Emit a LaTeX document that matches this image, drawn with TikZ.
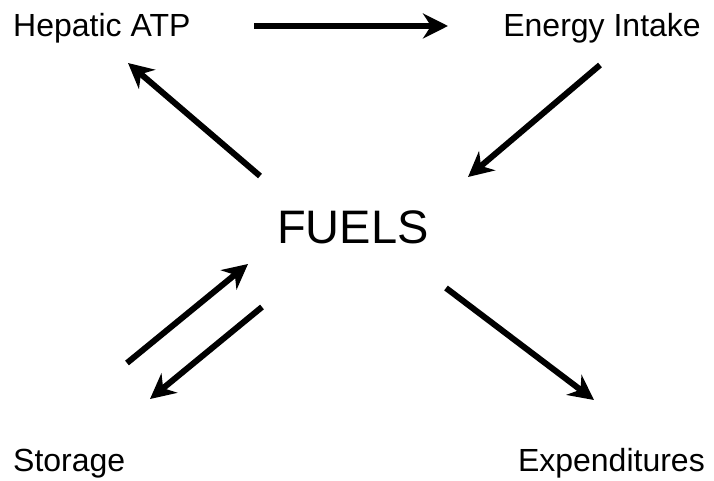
\documentclass[tikz,border=0pt]{standalone}
\usepackage{fontspec}
\setmainfont{Liberation Sans}
\usetikzlibrary{arrows.meta}
\begin{document}
\begin{tikzpicture}[x=1pt,y=-1pt,
  lbl/.style={inner sep=0pt,font=\fontsize{32}{38}\selectfont},
  conn/.style={line width=6pt,-{Stealth[length=25pt,width=25pt,inset=8pt]}}]
\useasboundingbox (0,0) rectangle (714,481);
\node[lbl,anchor=base west] (atp) at (13,37) {Hepatic ATP};
\node[lbl,anchor=base east] (intake) at (701,37) {Energy Intake};
\node[lbl,anchor=base,font=\fontsize{47}{54}\selectfont] (fuels) at (353,243) {FUELS};
\node[lbl,anchor=base west] (storage) at (13,471) {Storage};
\node[lbl,anchor=base east] (exp) at (705,471) {Expenditures};
\coordinate (a1) at (254,26); \coordinate (a2) at (448,26);
\coordinate (b1) at (600,65); \coordinate (b2) at (468,177);
\coordinate (c1) at (260,176); \coordinate (c2) at (128,63);
\coordinate (d1) at (127,363); \coordinate (d2) at (248,264);
\coordinate (e1) at (262,307); \coordinate (e2) at (150,399);
\coordinate (f1) at (446,288); \coordinate (f2) at (594,400);
\draw[conn] (a1) -- (a2);
\draw[conn] (b1) -- (b2);
\draw[conn] (c1) -- (c2);
\draw[conn] (d1) -- (d2);
\draw[conn] (e1) -- (e2);
\draw[conn] (f1) -- (f2);
\end{tikzpicture}
\end{document}
